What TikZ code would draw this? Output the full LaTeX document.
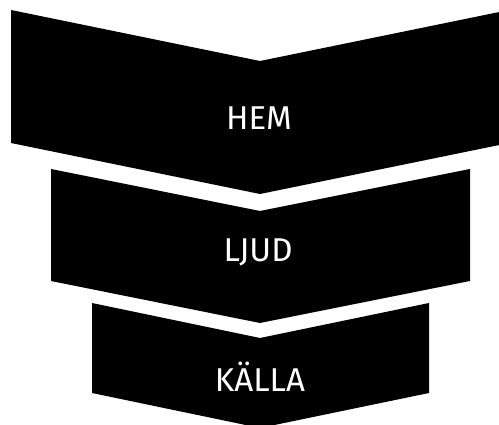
\documentclass[tikz,border=0pt]{standalone}
\usepackage{fontspec}
\setmainfont{Fira Sans}
\tikzset{
  chev/.style={fill=black, draw=none},
  lbl/.style={text=white, font=\fontsize{33}{33}\selectfont, inner sep=0pt, anchor=base}
}
\begin{document}
\begin{tikzpicture}[x=1pt,y=-1pt]
\useasboundingbox (0,0) rectangle (499,425);
\clip (0,0) rectangle (499,425);
\fill[chev] (11,10) -- (260,61) -- (509,10) -- (509,143) -- (260,194) -- (11,143) -- cycle;
\fill[chev] (51,169) -- (260,211) -- (470,169) -- (470,281) -- (260,323) -- (51,281) -- cycle;
\fill[chev] (92,303) -- (260,338) -- (429,303) -- (429,393) -- (260,428) -- (92,393) -- cycle;
\node[lbl] (hem) at (259,129.5) {HEM};
\node[lbl] (ljud) at (258,262) {LJUD};
\node[lbl] (kalla) at (260,391.5) {KÄLLA};
\end{tikzpicture}
\end{document}
